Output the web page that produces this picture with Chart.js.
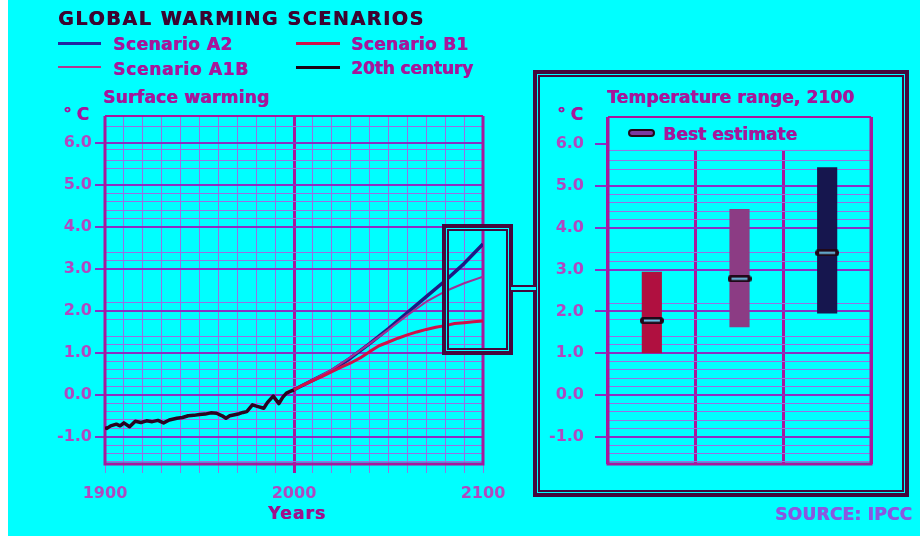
<!DOCTYPE html>
<html>
<head>
<meta charset="utf-8">
<script src="https://cdn.jsdelivr.net/npm/chart.js@4.4.1/dist/chart.umd.min.js"></script>
<style>
    body { margin: 0; width: 920px; height: 536px; background: #fff; overflow: hidden; font-family: "DejaVu Sans", sans-serif; position: relative; }
    #page { position: absolute; left: 8px; top: 0; width: 912px; height: 536px; background: #00ffff; }
    canvas { position: absolute; top: 0; }
    .lbl { position: absolute; font-weight: bold; font-size: 17px; line-height: 1; white-space: nowrap; transform: translateY(-50%); color: #a5179b; text-shadow: 0.6px 0 0 currentColor; }
    .swatch { position: absolute; }
    .dbox { position: absolute; border: 4px solid #45083c; box-sizing: border-box; }
    .dbox > div { position: absolute; inset: 1px; border: 2px solid #45083c; box-shadow: 0 0 0 1px #00ffff; }
    #connector { position: absolute; left: 511px; top: 285px; width: 25px; height: 3px; border-top: 2px solid #45083c; border-bottom: 2px solid #45083c; background: #00ffff; }
    #bestKey { position: absolute; left: 628px; top: 129px; width: 27px; height: 8px; box-sizing: border-box; border: 2px solid #200818; border-radius: 4px; background: #7a3aa0; }
</style>
</head>
<body>
<div id="page"></div>
<canvas id="warmingChart" width="520" height="536" style="left:0"></canvas>
<canvas id="rangeChart" width="400" height="536" style="left:520px"></canvas>

<div class="dbox" style="left:442px;top:224px;width:71px;height:131px"><div></div></div>
<div class="dbox" style="left:533px;top:70px;width:376px;height:427px"><div></div></div>
<div id="connector"></div>

<div class="lbl" data-w="365" style="left:58px;top:18px;font-size:19px;color:#3c0430">GLOBAL WARMING SCENARIOS</div>
<div class="swatch" style="left:58px;top:42px;width:43px;height:3px;background:#2424a0"></div>
<div class="swatch" style="left:58px;top:66px;width:43px;height:2px;background:#b03890"></div>
<div class="swatch" style="left:296px;top:42px;width:44px;height:3px;background:#d01048"></div>
<div class="swatch" style="left:296px;top:66px;width:44px;height:3px;background:#1a0414"></div>
<div class="lbl" data-w="119" style="left:113px;top:44px">Scenario A2</div>
<div class="lbl" data-w="135" style="left:113px;top:69px">Scenario A1B</div>
<div class="lbl" data-w="117" style="left:351px;top:44px">Scenario B1</div>
<div class="lbl" data-w="122" style="left:351px;top:68px">20th century</div>
<div class="lbl" data-w="166" style="left:103px;top:97px">Surface warming</div>
<div class="lbl" data-w="26" style="left:63px;top:114px">°C</div>
<div class="lbl" data-w="57" style="left:268px;top:513px;color:#a0108c">Years</div>
<div class="lbl" data-w="247" style="left:607px;top:97px">Temperature range, 2100</div>
<div class="lbl" data-w="26" style="left:557px;top:114px">°C</div>
<div id="bestKey"></div>
<div class="lbl" data-w="134" style="left:663px;top:134px">Best estimate</div>
<div class="lbl" data-w="137" style="left:775px;top:514px;color:#8a58e0">SOURCE: IPCC</div>

<script>
// --- Data ---
const histYears = [1900, 1901, 1903, 1906, 1908, 1910, 1913, 1916, 1919, 1922, 1925, 1928, 1931, 1934, 1938, 1941, 1944, 1947, 1950, 1953, 1956, 1959, 1962, 1964, 1966, 1968, 1971, 1973, 1975, 1978, 1981, 1984, 1986, 1989, 1992, 1994, 1996, 1998, 2000];
const histTemps = [-0.78, -0.80, -0.74, -0.70, -0.74, -0.67, -0.76, -0.63, -0.66, -0.62, -0.64, -0.61, -0.67, -0.60, -0.56, -0.54, -0.50, -0.49, -0.47, -0.46, -0.43, -0.44, -0.50, -0.56, -0.50, -0.48, -0.45, -0.42, -0.40, -0.24, -0.28, -0.32, -0.18, -0.03, -0.21, -0.06, 0.04, 0.08, 0.12];

const scenYears = [2000, 2010, 2020, 2030, 2040, 2050, 2060, 2070, 2080, 2090, 2100];
const a2Temps  = [0.12, 0.35, 0.58, 0.88, 1.22, 1.58, 1.96, 2.34, 2.72, 3.13, 3.60];
const a1bTemps = [0.12, 0.36, 0.60, 0.90, 1.22, 1.55, 1.90, 2.22, 2.47, 2.66, 2.82];
const b1Years = [2000, 2005, 2010, 2015, 2020, 2025, 2030, 2035, 2040, 2045, 2050, 2055, 2060, 2065, 2070, 2075, 2080, 2085, 2090, 2095, 2100];
const b1Temps = [0.12, 0.24, 0.34, 0.44, 0.55, 0.66, 0.76, 0.88, 1.03, 1.17, 1.26, 1.35, 1.43, 1.50, 1.56, 1.61, 1.65, 1.70, 1.72, 1.74, 1.76];

const rangeLabels = ['B1', 'A1B', 'A2'];
const rangeLow  = [1.00, 1.62, 1.95];
const rangeHigh = [2.95, 4.45, 5.45];
const bestEstimate = [1.78, 2.78, 3.40];
const rangeColors = ['#b01040', '#8c3c84', '#16164e'];

const yMajorTicks = [-1, 0, 1, 2, 3, 4, 5, 6];
const yMinorTicks = [-1.6, -1.4, -1.2, -0.8, -0.6, -0.4, -0.2, 0.2, 0.4, 0.6, 0.8, 1.2, 1.4, 1.8, 2.2, 3.2, 3.4, 4.2, 4.4, 4.6, 4.8, 5.4, 5.6, 5.85, 6.4];
const xLabelYears = [1900, 2000, 2100];

// --- Colours ---
const tickText = '#b048c0';
const majorGrid = '#8a30c4';
const minorGrid = '#9672e4';
const frameColor = '#a8189c';
const tickFont = { family: 'DejaVu Sans', size: 16, weight: 'bold' };

const isMajor = v => yMajorTicks.includes(v);
const allYTicks = yMajorTicks.concat(yMinorTicks).sort((a, b) => a - b);

const yScale = (axisWidth, tickLength, padding) => ({
    min: -1.65,
    max: 6.65,
    afterBuildTicks: axis => { axis.ticks = allYTicks.map(v => ({ value: v })); },
    afterFit: axis => { axis.width = axisWidth; },
    border: { display: false },
    grid: {
        color: c => isMajor(c.tick.value) ? majorGrid : minorGrid,
        lineWidth: c => isMajor(c.tick.value) ? 2 : 1,
        tickColor: c => isMajor(c.tick.value) ? majorGrid : 'rgba(0,0,0,0)',
        tickLength: tickLength
    },
    ticks: {
        autoSkip: false,
        padding: padding,
        color: tickText,
        font: tickFont,
        callback: v => isMajor(v) ? v.toFixed(1) : ''
    }
});

// Frame round the plot area
const framePlugin = {
    id: 'frame',
    beforeDatasetsDraw(chart, args, opts) {
        const { ctx, chartArea: a } = chart;
        ctx.save();
        if (opts.legendTo !== undefined) {
            // blank legend strip at the top of the range panel
            const yl = chart.scales.y.getPixelForValue(opts.legendTo);
            ctx.fillStyle = '#00ffff';
            ctx.fillRect(a.left + 1, a.top + 1, a.right - a.left - 2, yl - a.top - 1);
            ctx.strokeStyle = minorGrid;
            ctx.lineWidth = 1;
            ctx.beginPath();
            ctx.moveTo(a.left, yl);
            ctx.lineTo(a.right, yl);
            ctx.stroke();
        }
        ctx.strokeStyle = frameColor;
        ctx.lineWidth = 3;
        ctx.beginPath();
        ctx.moveTo(a.left, a.top);
        ctx.lineTo(a.left, a.bottom);
        ctx.lineTo(a.right, a.bottom);
        ctx.lineTo(a.right, a.top);
        ctx.stroke();
        ctx.lineWidth = 2;
        ctx.beginPath();
        ctx.moveTo(a.left, a.top);
        ctx.lineTo(a.right, a.top);
        ctx.stroke();
        ctx.restore();
    }
};

const toPoints = (xs, ys) => xs.map((x, i) => ({ x: x, y: ys[i] }));

// --- Surface warming line chart ---
new Chart(document.getElementById('warmingChart'), {
    type: 'line',
    data: {
        datasets: [
            { label: 'Scenario B1', data: toPoints(b1Years, b1Temps), borderColor: '#d01048', borderWidth: 3 },
            { label: 'Scenario A1B', data: toPoints(scenYears, a1bTemps), borderColor: '#a03094', borderWidth: 2 },
            { label: 'Scenario A2', data: toPoints(scenYears, a2Temps), borderColor: '#1c1c84', borderWidth: 3.5 },
            { label: '20th century', data: toPoints(histYears, histTemps), borderColor: '#2a0420', borderWidth: 3.5 }
        ]
    },
    options: {
        responsive: false,
        animation: false,
        layout: { padding: { left: 0, top: 116, right: 37, bottom: 0 } },
        elements: { point: { radius: 0 }, line: { tension: 0, borderJoinStyle: 'round' } },
        plugins: { legend: { display: false }, tooltip: { enabled: false }, frame: {} },
        scales: {
            x: {
                type: 'linear',
                min: 1900,
                max: 2100,
                afterFit: axis => { axis.height = 72; },
                border: { display: false },
                grid: {
                    color: c => c.tick.value === 2000 ? frameColor : minorGrid,
                    lineWidth: c => c.tick.value === 2000 ? 3 : 1,
                    tickLength: 9
                },
                ticks: {
                    stepSize: 10,
                    autoSkip: false,
                    maxRotation: 0,
                    padding: 11,
                    color: tickText,
                    font: tickFont,
                    callback: v => xLabelYears.includes(v) ? String(v) : ''
                }
            },
            y: yScale(105, 10, 3)
        }
    },
    plugins: [framePlugin]
});

// --- Temperature range 2100 floating bars ---
const marker = document.createElement('canvas');
marker.width = 24;
marker.height = 7;
const mctx = marker.getContext('2d');
mctx.fillStyle = '#200818';
mctx.beginPath();
mctx.roundRect(0, 0, 24, 7, 3.5);
mctx.fill();
mctx.fillStyle = '#70c8f0';
mctx.fillRect(4, 2.5, 16, 2);

new Chart(document.getElementById('rangeChart'), {
    type: 'bar',
    data: {
        labels: rangeLabels,
        datasets: [
            {
                type: 'line',
                label: 'Best estimate',
                data: bestEstimate,
                showLine: false,
                pointStyle: marker,
                pointRadius: 4,
                order: 1
            },
            {
                label: 'Range',
                data: rangeLow.map((lo, i) => [lo, rangeHigh[i]]),
                backgroundColor: rangeColors,
                borderColor: '#300828',
                borderWidth: 0,
                barPercentage: 0.23,
                categoryPercentage: 1,
                order: 2
            }
        ]
    },
    options: {
        responsive: false,
        animation: false,
        layout: { padding: { left: 0, top: 117, right: 49, bottom: 0 } },
        plugins: { legend: { display: false }, tooltip: { enabled: false }, frame: { legendTo: 5.85 } },
        scales: {
            x: {
                afterFit: axis => { axis.height = 72; },
                border: { display: false },
                grid: { offset: true, color: frameColor, lineWidth: 3, drawTicks: false },
                ticks: { display: false }
            },
            y: yScale(88, 13, 11)
        }
    },
    plugins: [framePlugin]
});

// stretch the label texts to the widths seen in the picture
document.querySelectorAll('.lbl').forEach(el => {
    const target = +el.dataset.w;
    const n = el.textContent.length;
    const w = el.getBoundingClientRect().width;
    if (n > 1) el.style.letterSpacing = ((target - w) / (n - 1)).toFixed(2) + 'px';
});
</script>
</body>
</html>
